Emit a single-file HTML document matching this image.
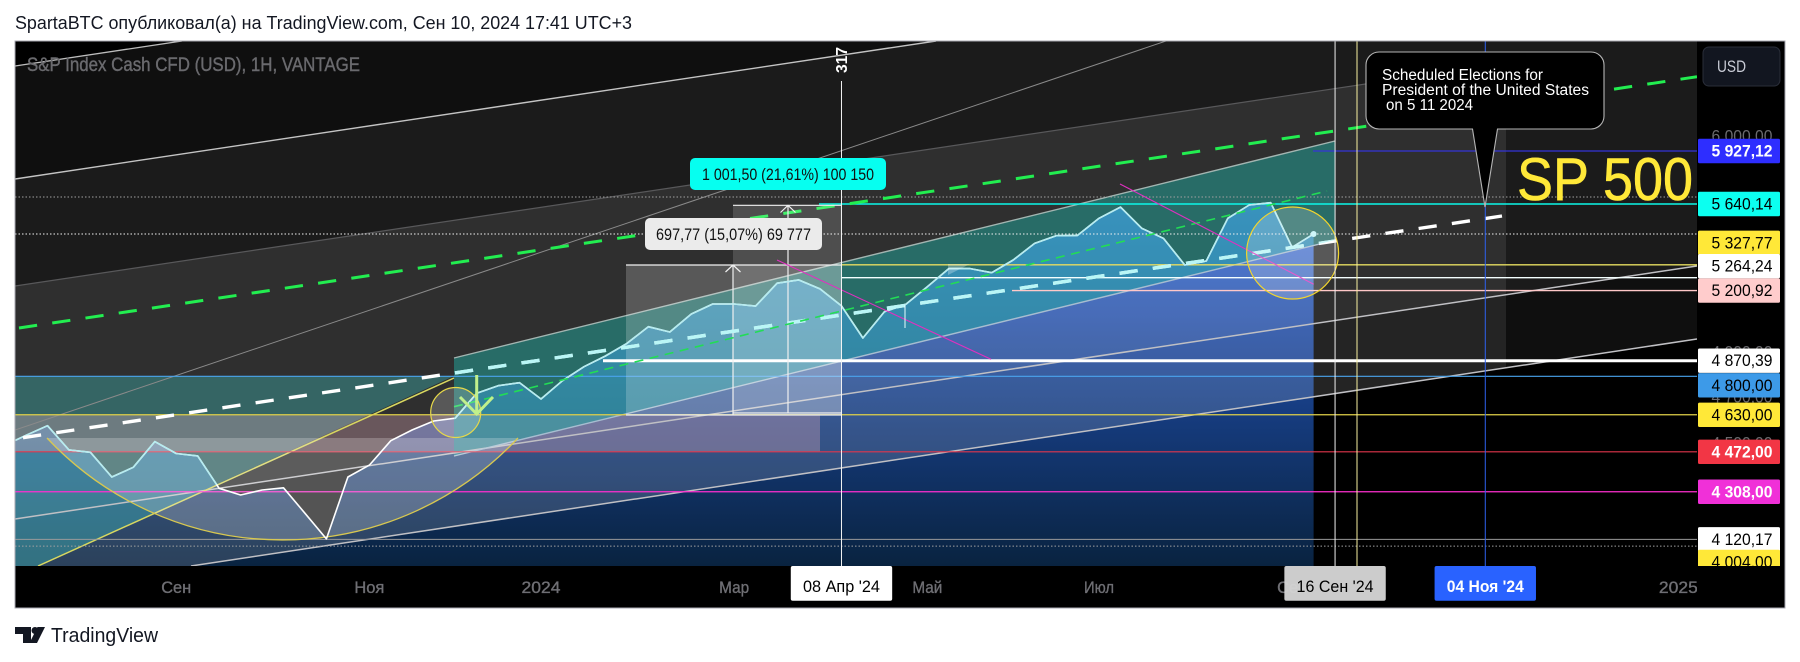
<!DOCTYPE html>
<html lang="ru">
<head>
<meta charset="utf-8">
<title>S&amp;P 500 TradingView chart</title>
<style>
html,body{margin:0;padding:0;background:#fff;width:1800px;height:662px;overflow:hidden}
svg{display:block;font-family:"Liberation Sans","Noto Sans CJK SC",sans-serif}
</style>
</head>
<body>
<svg id="root" xmlns="http://www.w3.org/2000/svg" width="1800" height="662" viewBox="0 0 1800 662">
  <defs>
    <clipPath id="plotClip"><rect x="15" y="41" width="1682" height="525"/></clipPath>
    <clipPath id="axisClip"><rect x="1697" y="41" width="88" height="525"/></clipPath>
    <clipPath id="tealClip">
      <polygon points="454,358 1335,141 1335,240 454,456"/>
      <polygon points="15,376 454,376 38,566 15,566"/>
      <rect x="626" y="205" width="215" height="210"/>
    </clipPath>
    <clipPath id="channelClip">
      <polygon points="454,358 1335,141 1335,240 454,456"/>
      <rect x="626" y="205" width="215" height="210"/>
    </clipPath>
    <linearGradient id="areaGradient" gradientUnits="userSpaceOnUse" x1="0" y1="180" x2="0" y2="566">
      <stop offset="0" stop-color="#2a62e0"/>
      <stop offset="1" stop-color="#092340"/>
    </linearGradient>
  </defs>

  <text x="15" y="29" font-size="18" fill="#131722" textLength="617" lengthAdjust="spacingAndGlyphs">SpartaBTC опубликовал(а) на TradingView.com, Сен 10, 2024 17:41 UTC+3</text>

  <rect x="15" y="41" width="1770" height="567" fill="#000"/>

  <g clip-path="url(#plotClip)">
    <g id="seriesArea"></g>

    <polygon points="15,66 182,41 1697,41 1697,339 191,566 15,566" fill="rgba(255,255,255,.06)"/>
    <polygon points="15,179 936,41 1697,41 1697,266 15,519" fill="rgba(255,255,255,.05)"/>
    <polygon points="15,286 1506,63 1506,368 191,566 15,566" fill="rgba(255,255,255,.09)"/>
    <polygon points="15,376 454,376 38,566 15,566" fill="rgba(67,204,200,.35)"/>
    <rect x="15" y="415" width="805" height="37" fill="rgba(225,170,185,.33)"/>
    <polygon points="454,358 1335,141 1335,240 454,456" fill="rgba(34,170,160,.5)"/>

    <line x1="15" y1="66" x2="182" y2="41" stroke="#bdbdbd" stroke-width="1.3"/>
    <line x1="15" y1="179" x2="936" y2="41" stroke="#c4c4c4" stroke-width="1.4"/>
    <line x1="15" y1="286" x2="1506" y2="63" stroke="#58585a" stroke-width="1.2"/>
    <line x1="15" y1="430" x2="1166" y2="41" stroke="#8a8a8a" stroke-width="1"/>
    <line x1="15" y1="519" x2="1697" y2="266" stroke="#c0c0c4" stroke-width="1.5"/>
    <line x1="191" y1="566" x2="1697" y2="339" stroke="#c0c0c4" stroke-width="1.5"/>
    <line x1="454" y1="358" x2="1335" y2="141" stroke="#a3b5b1" stroke-width="1.4"/>
    <line x1="454" y1="456" x2="1336" y2="240" stroke="#a7bdd0" stroke-width="1.4"/>
    <line x1="38" y1="566" x2="454" y2="378" stroke="#d8d860" stroke-width="1.5"/>

    <g id="levelLines"></g>

    <line x1="19" y1="328" x2="1697" y2="76.7" stroke="#22ee50" stroke-width="3" stroke-dasharray="18.3 15.3"/>

    <rect x="626" y="265" width="215" height="150" fill="rgba(255,255,255,.2)"/>
    <rect x="733" y="205" width="108" height="208" fill="rgba(255,255,255,.15)"/>
    <path d="M626 265H841M626 415H841M733 415V265M725.5 272L733 265L740.5 272" fill="none" stroke="#f0f0f0" stroke-width="1.2"/>
    <path d="M733 205.3H841M733 413H841M788 413V205.3M780.5 212.5L788 205.3L795.5 212.5" fill="none" stroke="#f0f0f0" stroke-width="1.2"/>

    <path d="M47 438 A323 323 0 0 0 518 438 Z" fill="rgba(255,255,255,.22)" stroke="none"/>
    <path d="M47 438 A323 323 0 0 0 518 438" fill="none" stroke="#d8c850" stroke-width="1.3"/>

    <g id="seriesLine"></g>

    <line x1="23" y1="437.7" x2="1502" y2="216" stroke="#fff" stroke-width="3.4" stroke-dasharray="18.3 15.3"/>
    <line clip-path="url(#channelClip)" x1="23" y1="437.7" x2="1502" y2="216" stroke="#b9f6f6" stroke-width="3.4" stroke-dasharray="18.3 15.3"/>
    <line x1="454" y1="406.7" x2="1327" y2="191" stroke="#22dd55" stroke-width="1.6" stroke-dasharray="9 6.5"/>

    <line x1="777" y1="260" x2="991" y2="359.3" stroke="#e030c0" stroke-width="1.1"/>
    <line x1="1120" y1="184" x2="1313.7" y2="284.3" stroke="#e030c0" stroke-width="1.1"/>
    <line x1="905" y1="305" x2="905" y2="328" stroke="#e8ffff" stroke-width="1"/>
    <polygon points="948,264 970,264 948,275" fill="rgba(255,255,255,.28)"/>

    <circle cx="455.7" cy="412.5" r="25" fill="rgba(255,255,255,.2)" stroke="#e6d84a" stroke-width="1.2"/>
    <ellipse cx="1292.6" cy="253" rx="46" ry="46" fill="rgba(255,255,255,.2)" stroke="#f2d52e" stroke-width="1.2"/>
    <path d="M476.7 375V414M460 397L476.7 414L493 397" fill="none" stroke="#c0f08c" stroke-width="3"/>

    <g id="crossLines"></g>
    <line x1="1357" y1="41" x2="1357" y2="566" stroke="#f8f0a0" stroke-width="1"/>

    <text transform="translate(847 73) rotate(-90)" font-size="16" font-weight="700" fill="#fff" textLength="26" lengthAdjust="spacingAndGlyphs">317</text>

    <text x="27" y="71" font-size="19" fill="#6a6a6e" stroke="#6a6a6e" stroke-width=".4" textLength="333" lengthAdjust="spacingAndGlyphs">S&amp;P Index Cash CFD (USD), 1H, VANTAGE</text>

    <rect x="690" y="158" width="196" height="32" rx="5" fill="#06fff0"/>
    <text x="702" y="180" font-size="16.5" fill="#111" textLength="172" lengthAdjust="spacingAndGlyphs">1 001,50 (21,61%) 100 150</text>
    <rect x="645" y="218" width="177" height="32" rx="5" fill="#ebebeb"/>
    <text x="656" y="240" font-size="16.5" fill="#111" textLength="155" lengthAdjust="spacingAndGlyphs">697,77 (15,07%) 69 777</text>

    <path d="M1379 52H1591A13 13 0 0 1 1604 65V116A13 13 0 0 1 1591 129H1497.5L1485 207L1472.5 129H1379A13 13 0 0 1 1366 116V65A13 13 0 0 1 1379 52Z" fill="#000" stroke="#b5b5b5" stroke-width="1.1"/>
    <text x="1382" y="80" font-size="15.5" fill="#fff" textLength="161" lengthAdjust="spacingAndGlyphs">Scheduled Elections for</text>
    <text x="1382" y="95" font-size="15.5" fill="#fff" textLength="207" lengthAdjust="spacingAndGlyphs">President of the United States</text>
    <text x="1386" y="110" font-size="15.5" fill="#fff" textLength="87" lengthAdjust="spacingAndGlyphs">on 5 11 2024</text>

    <text x="1517" y="200" font-size="60" fill="#ffe838" stroke="#ffe838" stroke-width=".6" textLength="176" lengthAdjust="spacingAndGlyphs">SP 500</text>
  </g>

  <rect x="1697" y="41" width="88" height="567" fill="#000"/>
  <rect x="15" y="566" width="1770" height="42" fill="#000"/>
  <g id="priceAxis" clip-path="url(#axisClip)"></g>
  <g id="timeAxis"></g>
  <rect x="1697" y="566" width="88" height="42" fill="#000"/>

  <rect x="1703" y="47" width="77" height="39" rx="6" fill="#121620" stroke="#2a2e39"/>
  <text x="1717" y="72" font-size="16.5" fill="#c9ccd6" textLength="29" lengthAdjust="spacingAndGlyphs">USD</text>

  <rect x="15" y="41" width="1770" height="567" fill="none" stroke="#a9a9b2" stroke-width="1"/>

  <g>
    <path d="M15 627H31V643H23V634H15ZM45 627L37 643H29.5L37.5 627Z" fill="#131722"/>
    <circle cx="35" cy="630.5" r="3.5" fill="#131722"/>
    <text x="51" y="642" font-size="20" fill="#131722" textLength="107" lengthAdjust="spacingAndGlyphs">TradingView</text>
  </g>
</svg>

<script>
// Weekly categories and closing prices
const categories = [
"2023-07-10","2023-07-17","2023-07-24","2023-07-31","2023-08-07","2023-08-14","2023-08-21","2023-08-28",
"2023-09-04","2023-09-11","2023-09-18","2023-09-25","2023-10-02","2023-10-09","2023-10-16","2023-10-23",
"2023-10-30","2023-11-06","2023-11-13","2023-11-20","2023-11-27","2023-12-04","2023-12-11","2023-12-18","2023-12-25",
"2024-01-01","2024-01-08","2024-01-15","2024-01-22","2024-01-29","2024-02-05","2024-02-12","2024-02-19","2024-02-26",
"2024-03-04","2024-03-11","2024-03-18","2024-03-25","2024-04-01","2024-04-08","2024-04-15","2024-04-22","2024-04-29",
"2024-05-06","2024-05-13","2024-05-20","2024-05-27","2024-06-03","2024-06-10","2024-06-17","2024-06-24",
"2024-07-01","2024-07-08","2024-07-15","2024-07-22","2024-07-29","2024-08-05","2024-08-12","2024-08-19","2024-08-26",
"2024-09-02","2024-09-09"];
const closes = [
4499,4542,4583,4480,4470,4368,4408,4515,4465,4455,4322,4295,4315,4324,4222,4122,
4368,4417,4519,4565,4603,4615,4724,4758,4771,4699,4780,4843,4892,4950,5028,5003,
5088,5136,5136,5126,5237,5253,5209,5127,4975,5099,5135,5220,5309,5309,5289,5352,
5436,5475,5477,5565,5624,5513,5462,5327,5347,5565,5635,5647,5416,5484];
const priceLevels = [5927.12,5640.14,5327.77,5264.24,5200.92,4870.39,4800,4630,4472,4308,4120.17,4004];
const levelLabels = ["5 927,12","5 640,14","5 327,77","5 264,24","5 200,92","4 870,39","4 800,00","4 630,00","4 472,00","4 308,00","4 120,17","4 004,00"];
const dottedLevels = [5677,5484,4094];
const priceTicks = [6000,4900,4700,4500];
const priceTickLabels = ["6 000,00","4 900,00","4 700,00","4 500,00"];
const timeTickDates = ["2023-09-04","2023-11-06","2024-01-01","2024-03-04","2024-05-06","2024-07-01","2024-09-02","2025-01-06"];
const timeTickLabels = ["Сен","Ноя","2024","Мар","Май","Июл","Сен","2025"];
const markerDates = ["2024-04-08","2024-09-16","2024-11-04"];
const markerLabels = ["08 Апр '24","16 Сен '24","04 Ноя '24"];

const NS = 'http://www.w3.org/2000/svg';
const originDay = Date.UTC(2023, 6, 17);
function xScale(date) {
  const parts = date.split('-').map(Number);
  const weeks = (Date.UTC(parts[0], parts[1] - 1, parts[2]) - originDay) / 604800000;
  return 26 + 21.46 * weeks;
}
function yScale(price) {
  return 151 + (Math.log(5927.12) - Math.log(price)) * 1068;
}
function make(tag, attrs, parent, text) {
  const el = document.createElementNS(NS, tag);
  Object.keys(attrs).forEach(function (k) { el.setAttribute(k, attrs[k]); });
  if (text !== undefined) el.textContent = text;
  parent.appendChild(el);
  return el;
}

// Area and line series
const points = categories.map(function (d, i) { return [xScale(d), yScale(closes[i])]; });
const lineD = points.map(function (p, i) { return (i ? 'L' : 'M') + p[0].toFixed(1) + ' ' + p[1].toFixed(1); }).join('');
const lastPoint = points[points.length - 1];
const areaD = lineD + 'L' + lastPoint[0].toFixed(1) + ' 566L' + points[0][0].toFixed(1) + ' 566Z';

const areaEl = make('path', { d: areaD, fill: 'url(#areaGradient)' }, document.getElementById('seriesArea'));



const lineLayer = document.getElementById('seriesLine');
const lineEl = make('path', { d: lineD, fill: 'none', stroke: '#ffffff', 'stroke-width': 1.6, 'stroke-linejoin': 'round' }, lineLayer);


const tintedLine = make('path', { d: lineD, fill: 'none', stroke: '#b5ecf0', 'stroke-width': 1.6, 'stroke-linejoin': 'round', 'clip-path': 'url(#tealClip)' }, lineLayer);


const endDot = make('circle', { cx: lastPoint[0], cy: lastPoint[1], r: 3, fill: '#c4f4f8' }, lineLayer);



// Horizontal levels
const levelStyle = [
  { line: '#3434d8', w: 1.2, from: 1313, to: 1697, bg: '#2e2eff', fg: '#fff', shift: 0 },
  { line: '#0cf7e8', w: 1.4, from: 819, to: 1697, bg: '#0cfff0', fg: '#000', shift: 0 },
  { line: '#e6dc60', w: 1.4, from: 841, to: 1697, bg: '#ffe838', fg: '#000', shift: -22 },
  { line: '#f4ffff', w: 1.4, from: 841, to: 1697, bg: '#ffffff', fg: '#000', shift: -11.5 },
  { line: '#ffc8c8', w: 1.4, from: 1012, to: 1697, bg: '#ffcccc', fg: '#000', shift: 0 },
  { line: '#ffffff', w: 3, from: 603, to: 1697, bg: '#ffffff', fg: '#000', shift: 0 },
  { line: '#4aa4ee', w: 1.1, from: 15, to: 1697, bg: '#3d9ae8', fg: '#000', shift: 9 },
  { line: '#e0d048', w: 1.2, from: 15, to: 1697, bg: '#ffe838', fg: '#000', shift: 0 },
  { line: '#e0364c', w: 1.1, from: 15, to: 1697, bg: '#f23645', fg: '#fff', shift: 0 },
  { line: '#ff2fd0', w: 1.2, from: 15, to: 1697, bg: '#f030d8', fg: '#fff', shift: 0 },
  { line: '#9a9a9a', w: 1.1, from: 15, to: 1697, bg: '#ffffff', fg: '#000', shift: 0 },
  { line: '#d8cc50', w: 1.1, from: 15, to: 1697, bg: '#ffe838', fg: '#000', shift: -8 }
];
const levelLayer = document.getElementById('levelLines');
priceLevels.forEach(function (p, i) {
  const s = levelStyle[i];
  const y = yScale(p);
  const ln = make('line', { x1: s.from, x2: s.to, y1: y, y2: y, stroke: s.line, 'stroke-width': s.w }, levelLayer);
  
  
});
dottedLevels.forEach(function (p, i) {
  const y = yScale(p);
  const ln = make('line', { x1: 15, x2: 1697, y1: y, y2: y, stroke: i === 1 ? '#f0f0f0' : '#a0a0a0', 'stroke-width': 1, 'stroke-dasharray': '1.5 2' }, levelLayer);
  
  
});

// Price axis
const priceAxis = document.getElementById('priceAxis');
priceTicks.forEach(function (p, i) {
  const t = make('text', { x: 1711.5, y: yScale(p) + 3.5, 'font-size': 17, fill: '#6a6a6e', textLength: 61, lengthAdjust: 'spacingAndGlyphs' }, priceAxis, priceTickLabels[i]);
  
  
});
priceLevels.forEach(function (p, i) {
  const s = levelStyle[i];
  const cy = yScale(p) + s.shift;
  const box = make('rect', { x: 1698, y: cy - 12.2, width: 82, height: 24.4, rx: 1.5, fill: s.bg }, priceAxis);
  
  
  const t = make('text', { x: 1711.5, y: cy + 5.5, 'font-size': 17, fill: s.fg, textLength: 61, lengthAdjust: 'spacingAndGlyphs', 'font-weight': (s.fg === '#fff') ? 700 : 400 }, priceAxis, levelLabels[i]);
  
  
});

// Time axis
const timeAxis = document.getElementById('timeAxis');
timeTickDates.forEach(function (d, i) {
  const isYear = /^\d+$/.test(timeTickLabels[i]);
  const t = make('text', { x: xScale(d), y: 593, 'font-size': 16.5, fill: '#6f6f74', stroke: '#6f6f74', 'stroke-width': .35, 'text-anchor': 'middle', textLength: isYear ? 39 : 30, lengthAdjust: 'spacingAndGlyphs' }, timeAxis, timeTickLabels[i]);
  
  
});
const markerStyle = [
  { line: '#f4f4f4', bg: '#ffffff', fg: '#000', from: 81 },
  { line: '#f0f0f0', bg: 'rgba(212,212,212,.96)', fg: '#000', from: 41 },
  { line: '#2f62f0', bg: '#2962ff', fg: '#fff', from: 41 }
];
const crossLayer = document.getElementById('crossLines');
markerDates.forEach(function (d, i) {
  const s = markerStyle[i];
  const x = xScale(d);
  const ln = make('line', { x1: x, x2: x, y1: s.from, y2: 566, stroke: s.line, 'stroke-width': 1 }, crossLayer);
  
  
  const box = make('rect', { x: x - 50.7, y: 566, width: 101.4, height: 34.7, rx: 2, fill: s.bg }, timeAxis);
  
  
  const t = make('text', { x: x, y: 592, 'font-size': 16.5, fill: s.fg, 'text-anchor': 'middle', textLength: 77, lengthAdjust: 'spacingAndGlyphs', 'font-weight': s.fg === '#fff' ? 700 : 400 }, timeAxis, markerLabels[i]);
  
  
});
</script>
</body>
</html>
